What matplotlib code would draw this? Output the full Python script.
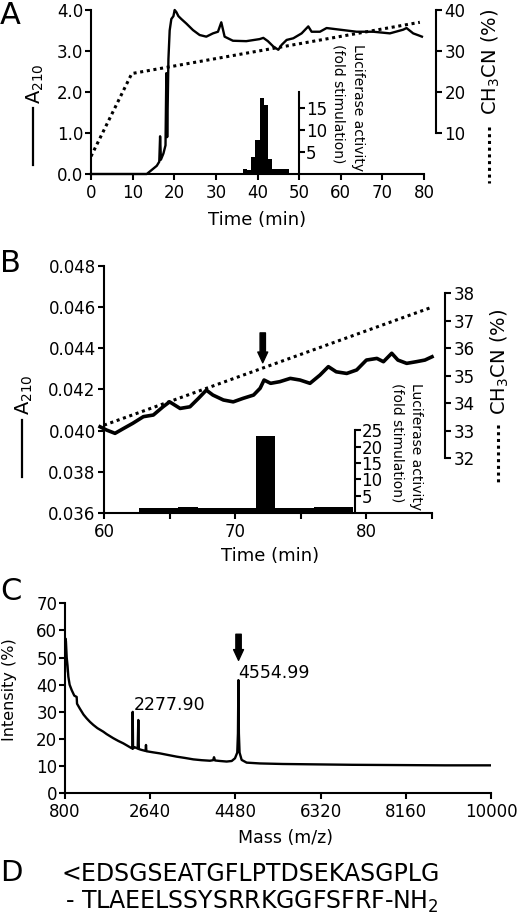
import matplotlib
matplotlib.use("Agg")
import matplotlib.pyplot as plt
from matplotlib.lines import Line2D
from matplotlib.ticker import FormatStrFormatter, MultipleLocator

# -------------------------------
# Panel A: HPLC trace, gradient, luciferase activity
# -------------------------------
a_time = [0, 5, 10, 13.4, 14.6, 15.8, 16.4, 16.6, 16.8, 17.4, 17.9, 18.1, 18.3,
          18.6, 18.9, 19.3, 19.8, 20.1, 20.5, 21.0, 21.7, 22.9, 24.5, 26.1, 27.7,
          29.3, 30.5, 31.3, 32.1, 34.1, 37.3, 40.5, 41.4, 42.5, 43.8, 45.0, 45.8,
          47.0, 48.6, 50.6, 52.2, 53.0, 55.0, 56.6, 59.8, 63.8, 67.8, 71.8, 75.0,
          75.8, 77.4, 79.0, 79.5]
a_abs = [0.0, 0.0, 0.0, 0.0, 0.1, 0.2, 0.3, 0.92, 0.35, 0.5, 0.7, 2.46, 0.9,
         2.8, 3.5, 3.78, 3.85, 4.0, 3.95, 3.85, 3.78, 3.67, 3.51, 3.39, 3.35,
         3.43, 3.47, 3.7, 3.35, 3.25, 3.24, 3.29, 3.32, 3.24, 3.11, 3.03, 3.15,
         3.27, 3.31, 3.43, 3.6, 3.47, 3.47, 3.56, 3.52, 3.47, 3.47, 3.43, 3.52,
         3.56, 3.43, 3.37, 3.35]
a_grad_time = [0, 9.8, 79]
a_grad_pct = [4.3, 24.5, 37.0]
a_luc_time = [37, 38, 39, 40, 41, 42, 43, 44, 45, 46, 47]
a_luc_fold = [1.2, 1.0, 3.8, 7.8, 17.3, 15.6, 3.5, 1.1, 1.1, 1.1, 1.1]

# -------------------------------
# Panel B: zoom 60-85 min
# -------------------------------
b_time = [59.7, 60.2, 60.84, 61.5, 62.2, 63.0, 63.76, 64.5, 65.0, 65.8, 66.55,
          67.2, 67.8, 68.3, 69.1, 69.85, 70.6, 71.4, 71.9, 72.2, 72.7, 73.4,
          74.2, 74.94, 75.7, 76.46, 77.1, 77.7, 78.5, 79.26, 80.0, 80.8, 81.3,
          81.93, 82.4, 83.07, 83.8, 84.46, 85.0]
b_abs = [0.04019, 0.04003, 0.03987, 0.04011, 0.04036, 0.04068, 0.04076, 0.04116,
         0.04140, 0.04108, 0.04116, 0.04157, 0.04197, 0.04173, 0.04149, 0.04140,
         0.04157, 0.04173, 0.04206, 0.04246, 0.04230, 0.04238, 0.04254, 0.04246,
         0.04230, 0.04270, 0.04311, 0.04286, 0.04278, 0.04295, 0.04343, 0.04351,
         0.04335, 0.04376, 0.04343, 0.04327, 0.04335, 0.04343, 0.04359]
b_grad_time = [60, 85]
b_grad_pct = [33.2, 37.5]
b_luc_left = [62.7, 64.18, 65.66, 67.14, 68.62, 70.1, 71.58, 73.06, 74.54, 76.02, 77.5]
b_luc_fold = [1.2, 1.3, 1.6, 1.2, 1.1, 1.1, 23.3, 1.2, 1.2, 1.5, 1.5]
b_luc_width = 1.48
b_arrow_time = 72.1

# -------------------------------
# Panel C: mass spectrum
# -------------------------------
c_mass = [800, 810, 820, 837, 855, 872, 900, 945, 1000, 1052, 1060, 1117, 1200,
          1268, 1340, 1411, 1500, 1627, 1700, 1843, 1950, 2059, 2150, 2240, 2255,
          2262, 2270, 2300, 2370, 2383, 2395, 2450, 2540, 2549, 2558, 2700, 2852,
          3000, 3212, 3400, 3571, 3750, 3931, 4000, 4018, 4040, 4150, 4291, 4400,
          4471, 4520, 4535, 4545, 4555, 4570, 4615, 4723, 5011, 5500, 6000, 7000,
          8000, 9000, 10000]
c_int = [45, 57, 56, 50, 47, 43, 40, 38, 36, 35.5, 33, 31.3, 29,
         27.6, 26.3, 25.2, 24, 22.7, 21.8, 20.3, 19.3, 18.4, 17.5, 16.6, 16.5,
         30, 16.5, 17, 16.5, 27, 16.3, 16, 15.6, 17.8, 15.5, 15.1, 14.7,
         14.2, 13.5, 13, 12.5, 12.2, 12.0, 12.2, 13.3, 12.1, 11.9, 11.7, 11.9,
         12.9, 15, 22, 41.7, 22, 15, 12.3, 11.3, 11.0, 10.8, 10.7, 10.5,
         10.4, 10.3, 10.3]
c_peaks = [(2276, 32.5, "2277.90"), (4544, 44.2, "4554.99")]
c_arrow_mass = 4548

seq_line1 = "<EDSGSEATGFLPTDSEKASGPLG"
seq_line2 = "- TLAEELSSYSRRKGGFSFRF-NH$_2$"

# -------------------------------
W, H = 517, 921
def fx(p):
    return p / W
def fy(p):
    return 1 - p / H

plt.rcParams['font.size'] = 12
plt.rcParams['axes.linewidth'] = 1.5
plt.rcParams['xtick.major.width'] = 1.5
plt.rcParams['ytick.major.width'] = 1.5
plt.rcParams['xtick.minor.width'] = 1.5
plt.rcParams['xtick.major.size'] = 4
plt.rcParams['ytick.major.size'] = 4
plt.rcParams['xtick.minor.size'] = 4
plt.rcParams['mathtext.default'] = 'regular'

fig = plt.figure(figsize=(W / 100, H / 100), dpi=100)

def clean(ax, keep):
    for s in ['left', 'right', 'top', 'bottom']:
        ax.spines[s].set_visible(s in keep)

dots = (0, (1, 1.2))
arrow_style = 'simple,head_length=0.7,head_width=0.65,tail_width=0.35'

# ---------- A ----------
axA = fig.add_axes([fx(91), fy(174), (424 - 91) / W, (174 - 10) / H])
clean(axA, ['left', 'bottom'])
axA.plot(a_time, a_abs, color='black', lw=1.7, clip_on=False)
axA.set_xlim(0, 80)
axA.set_ylim(0, 4)
axA.set_xticks(range(0, 81, 10))
axA.set_yticks([0, 1, 2, 3, 4])
axA.yaxis.set_major_formatter(FormatStrFormatter('%.1f'))
axA.tick_params(axis='y', pad=1.5)
axA.tick_params(axis='x', pad=3)

axA_ch = axA.twinx()
clean(axA_ch, ['right'])
axA_ch.spines['right'].set_position(('outward', 12 * 0.72))
axA_ch.spines['right'].set_bounds(10, 40)
axA_ch.set_ylim(0, 40)
axA_ch.set_yticks([10, 20, 30, 40])
axA_ch.tick_params(axis='y', pad=2)
axA_ch.plot(a_grad_time, a_grad_pct, color='black', lw=2.2, linestyle=dots)

axA_luc = axA.twinx()
clean(axA_luc, ['right'])
axA_luc.spines['right'].set_position(('data', 50))
axA_luc.spines['right'].set_bounds(0, 18.6)
axA_luc.set_ylim(0, 37.3)
axA_luc.set_yticks([5, 10, 15])
axA_luc.tick_params(axis='y', pad=1)
axA_luc.bar(a_luc_time, a_luc_fold, width=1.0, color='black')

# ---------- B ----------
axB = fig.add_axes([fx(104), fy(513), (432 - 104) / W, (513 - 266) / H])
clean(axB, ['left', 'bottom'])
axB.plot(b_time, b_abs, color='black', lw=2.6, clip_on=False)
axB.set_xlim(60, 85)
axB.set_ylim(0.036, 0.048)
axB.set_xticks([60, 70, 80])
axB.xaxis.set_minor_locator(MultipleLocator(5))
axB.set_yticks([0.036, 0.038, 0.040, 0.042, 0.044, 0.046, 0.048])
axB.yaxis.set_major_formatter(FormatStrFormatter('%.3f'))
axB.tick_params(axis='y', pad=2)
axB.tick_params(axis='x', pad=3)
axB.annotate('', xy=(b_arrow_time, 0.0433), xytext=(b_arrow_time, 0.04475),
             arrowprops=dict(arrowstyle=arrow_style, color='black',
                             mutation_scale=11, shrinkA=0, shrinkB=0))

axB_ch = axB.twinx()
clean(axB_ch, ['right'])
axB_ch.spines['right'].set_position(('outward', 13 * 0.72))
axB_ch.spines['right'].set_bounds(32, 38)
axB_ch.set_ylim(30, 39)
axB_ch.set_yticks(range(32, 39))
axB_ch.tick_params(axis='y', pad=2)
axB_ch.plot(b_grad_time, b_grad_pct, color='black', lw=2.2, linestyle=dots)

axB_luc = axB.twinx()
clean(axB_luc, ['right'])
axB_luc.spines['right'].set_position(('data', 79.1))
axB_luc.spines['right'].set_bounds(0, 25)
axB_luc.set_ylim(-0.3, 75.2)
axB_luc.set_yticks([5, 10, 15, 20, 25])
axB_luc.tick_params(axis='y', pad=1)
axB_luc.bar(b_luc_left, b_luc_fold, width=b_luc_width, align='edge', color='black')

# ---------- C ----------
axC = fig.add_axes([fx(65), fy(793.3), (491 - 65) / W, (793.3 - 603.3) / H])
clean(axC, ['left', 'bottom'])
axC.plot(c_mass, c_int, color='black', lw=1.7)
axC.set_xlim(800, 10000)
axC.set_ylim(0, 70)
axC.set_xticks([800, 2640, 4480, 6320, 8160, 10000])
axC.set_yticks(range(0, 71, 10))
axC.tick_params(axis='y', pad=1.5)
axC.tick_params(axis='x', pad=3)
for m, v, lab in c_peaks:
    axC.text(m, v, lab, ha='left', va='center', fontsize=12.5)
axC.annotate('', xy=(c_arrow_mass, 49), xytext=(c_arrow_mass, 58.6),
             arrowprops=dict(arrowstyle=arrow_style, color='black',
                             mutation_scale=11, shrinkA=0, shrinkB=0))

# ---------- labels ----------
fig.text(fx(257), fy(220), 'Time (min)', ha='center', va='center', fontsize=13)
fig.text(fx(270), fy(556), 'Time (min)', ha='center', va='center', fontsize=13)
fig.text(fx(285), fy(838), 'Mass (m/z)', ha='center', va='center', fontsize=12.5)
fig.text(fx(10), fy(690), 'Intensity (%)', ha='center', va='center', rotation=90, fontsize=11.5)

luc_label = 'Luciferase activity\n(fold stimulation)'
fig.text(fx(348), fy(108), luc_label, ha='center', va='center', rotation=-90,
         fontsize=10, multialignment='left', linespacing=1.5)
fig.text(fx(407), fy(447), luc_label, ha='center', va='center', rotation=-90,
         fontsize=10, multialignment='left', linespacing=1.4)

# A210 labels with solid legend line
for xc, yc, y0, y1 in [(35, 84, 108, 165), (24, 395, 420, 477)]:
    fig.text(fx(xc), fy(yc), 'A$_{210}$', ha='center', va='center', rotation=90, fontsize=14)
    fig.add_artist(Line2D([fx(xc - 2), fx(xc - 2)], [fy(y0), fy(y1)], color='black', lw=1.6,
                          transform=fig.transFigure))

# CH3CN labels with dotted legend line
for xc, yc, y0, y1 in [(491, 62, 127, 183), (500, 362, 425, 483)]:
    fig.text(fx(xc), fy(yc), 'CH$_3$CN (%)', ha='center', va='center', rotation=90, fontsize=14)
    fig.add_artist(Line2D([fx(xc - 2), fx(xc - 2)], [fy(y0), fy(y1)], color='black', lw=2.2,
                          linestyle=dots, transform=fig.transFigure))

# panel letters
fig.text(0.0, fy(1), 'A', ha='left', va='top', fontsize=22)
for lab, yc in [('B', 263), ('C', 592)]:
    fig.text(0.0, fy(yc), lab, ha='left', va='center', fontsize=22)
fig.text(0.0, fy(873), 'D', ha='left', va='center', fontsize=21)

fig.text(fx(61), fy(874), seq_line1, ha='left', va='center', fontsize=17)
fig.text(fx(65), fy(902), seq_line2, ha='left', va='center', fontsize=17)

fig.savefig('out.png', dpi=100)
